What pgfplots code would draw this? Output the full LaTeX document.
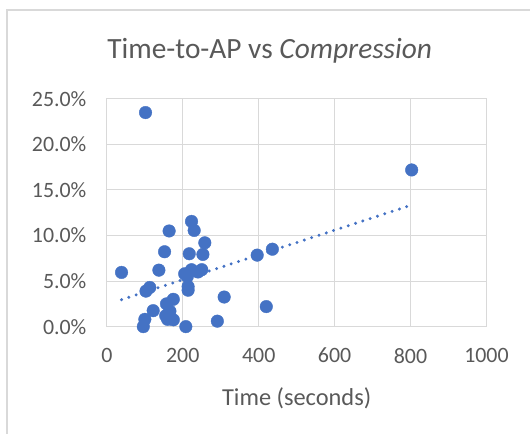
\documentclass[border=0pt]{standalone}
\usepackage{pgfplots}
\pgfplotsset{compat=1.18}
\usepackage{fontspec}
\setmainfont{Carlito}
\definecolor{dotblue}{HTML}{4472C4}
\definecolor{gridgrey}{HTML}{D9D9D9}
\definecolor{textgrey}{HTML}{595959}
\begin{document}
\begin{tikzpicture}
\begin{axis}[
  scale only axis,
  width=380bp, height=228bp,
  xmin=0, xmax=1000, ymin=0, ymax=25,
  xtick={0,200,...,1000}, ytick={0,5,...,25},
  grid=major,
  major grid style={gridgrey, line width=1bp},
  axis line style={gridgrey, line width=1bp},
  tick style={draw=none},
  /pgf/number format/assume math mode=true,
  /pgf/number format/1000 sep={},
  ticklabel style={font=\fontsize{22}{25}\selectfont, text=textgrey},
  xticklabel style={yshift=-18bp},
  yticklabel style={xshift=-17bp},
  yticklabel={\pgfmathprintnumber[fixed,fixed zerofill,precision=1]{\tick}\%},
  scaled y ticks=false,
  xlabel={Time (seconds)},
  xlabel style={font=\fontsize{24.5}{28}\selectfont, text=textgrey, yshift=-18bp},
  clip=false,
]
\addplot[only marks, mark=*, mark size=6.3bp, mark options={fill=dotblue, draw=dotblue}] coordinates {
(101.8,23.5) (38.6,5.95) (164,10.5) (223,11.55) (230,10.56) (258,9.2)
(152,8.22) (217,8.0) (253,7.93) (137,6.2) (205,5.8) (223,6.25)
(250,6.25) (212,5.5) (240,6.0) (214,4.4) (214,4.0) (113,4.3)
(103,3.9) (309,3.25) (175,3.0) (157,2.5) (166,1.7) (122,1.75)
(155,1.2) (100,0.8) (160,0.8) (175,0.75) (96,0.0) (208,0.0)
(291,0.6) (420,2.2) (396,7.85) (436,8.5) (803,17.2)
};
\addplot[dotblue, line width=3.3bp, line cap=round, dash pattern=on 0bp off 7.7bp] coordinates {(38.6,2.96) (803,13.35)};
\coordinate (O) at (rel axis cs:0,0);
\end{axis}
\draw[gridgrey, line width=1.2bp] ([shift={(-100bp,-107bp)}]O) -- ([shift={(-100bp,317bp)}]O) -- ([shift={(424bp,317bp)}]O);
\node[font=\fontsize{29.5}{34}\selectfont, text=textgrey] at ([shift={(163bp,276bp)}]O) {Time-to-AP vs \textit{Compression}};
\path[use as bounding box] ([shift={(-107bp,-107bp)}]O) rectangle ([shift={(424bp,327bp)}]O);
\end{tikzpicture}
\end{document}
